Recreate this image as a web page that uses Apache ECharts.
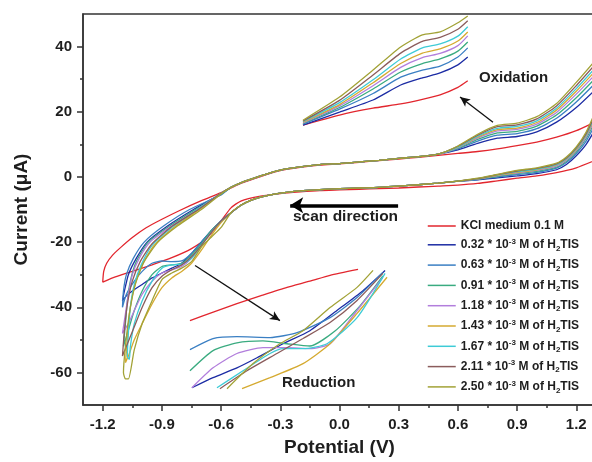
<!DOCTYPE html>
<html>
<head>
<meta charset="utf-8">
<script src="https://cdn.jsdelivr.net/npm/echarts@6/dist/echarts.min.js"></script>
<style>
  html, body { margin: 0; padding: 0; background: #fff; }
  #main { width: 592px; height: 462px; }
</style>
</head>
<body>
<div id="main"></div>
<script>
// legend names and colours (KCl blank first, then H2TIS concentrations)
const names = ['KCl medium 0.1 M', '0.32', '0.63', '0.91', '1.18', '1.43', '1.67', '2.11', '2.50'];
const colors = ['#e2262e', '#1c2ca4', '#3a7fc3', '#3aab80', '#b27edc', '#d5aa30', '#3ecbd6', '#8b5c5c', '#a2a236'];

// axis ticks
const xTicks = [-1.2, -0.9, -0.6, -0.3, 0, 0.3, 0.6, 0.9, 1.2];
const xMinor = [-1.05, -0.75, -0.45, -0.15, 0.15, 0.45, 0.75, 1.05];
const yTicks = [-60, -40, -20, 0, 20, 40];
const yMinor = [-50, -30, -10, 10, 30];

// KCl blank, full loop [V, uA]
const redLoop = [[1.3,5.2],[1.2,2.8],[1.1,1.3],[1.0,0.3],[0.9,-0.4],[0.8,-1.2],[0.7,-2.0],[0.6,-2.5],[0.5,-2.8],
  [0.4,-3.1],[0.3,-3.4],[0.2,-3.6],[0.1,-3.8],[0.0,-4.0],[-0.1,-4.2],[-0.2,-4.6],[-0.3,-5.1],[-0.4,-5.9],
  [-0.5,-7.4],[-0.55,-9.5],[-0.6,-13.5],[-0.67,-18.6],[-0.75,-22.0],[-0.85,-24.8],[-0.95,-27.0],[-1.05,-29.0],
  [-1.15,-31.0],[-1.2,-32.3],[-1.195,-29.0],[-1.18,-26.5],[-1.15,-24.0],[-1.11,-21.7],[-1.05,-18.6],[-0.98,-15.6],
  [-0.9,-13.0],[-0.81,-10.3],[-0.7,-7.3],[-0.6,-4.8],[-0.5,-2.0],[-0.4,0.1],[-0.3,1.9],[-0.2,2.9],[-0.1,3.6],
  [0.0,4.0],[0.1,4.5],[0.2,5.0],[0.3,5.5],[0.4,6.0],[0.5,6.6],[0.6,7.2],[0.7,7.8],[0.8,8.6],[0.9,9.6],
  [1.0,10.7],[1.1,12.2],[1.2,14.2],[1.3,17.0]];

// H2TIS loops, pieces in scan order (0.32 ... 2.50)
const lowerRight = [
  [[1.3,15],[1.25,10],[1.2,6.5],[1.15,3.8],[1.1,2.2],[1.0,1.0],[0.9,0.3],[0.8,-0.3],[0.7,-0.9]],
  [[1.3,16.5],[1.25,11],[1.2,7.2],[1.15,4.4],[1.1,2.7],[1.0,1.4],[0.9,0.7],[0.8,0.0],[0.7,-0.8]],
  [[1.3,17.5],[1.25,11.8],[1.2,7.7],[1.15,4.8],[1.1,3.0],[1.0,1.7],[0.9,1.0],[0.8,0.2],[0.7,-0.7]],
  [[1.3,18.2],[1.25,12.3],[1.2,8.1],[1.15,5.1],[1.1,3.3],[1.0,2.0],[0.9,1.2],[0.8,0.4],[0.7,-0.6]],
  [[1.3,18.8],[1.25,12.7],[1.2,8.4],[1.15,5.4],[1.1,3.6],[1.0,2.2],[0.9,1.4],[0.8,0.5],[0.7,-0.6]],
  [[1.3,19.3],[1.25,13.0],[1.2,8.7],[1.15,5.6],[1.1,3.8],[1.0,2.4],[0.9,1.6],[0.8,0.6],[0.7,-0.5]],
  [[1.3,19.8],[1.25,13.3],[1.2,8.9],[1.15,5.8],[1.1,4.0],[1.0,2.6],[0.9,1.8],[0.8,0.7],[0.7,-0.5]],
  [[1.3,20.5],[1.25,13.8],[1.2,9.2],[1.15,6.1],[1.1,4.2],[1.0,2.8],[0.9,2.0],[0.8,0.8],[0.7,-0.4]]
];
const lowerMid = [[0.6,-1.3],[0.5,-1.9],[0.4,-2.4],[0.3,-2.8],[0.2,-3.2],[0.1,-3.4],[0.0,-3.6],[-0.1,-3.9],
  [-0.2,-4.3],[-0.3,-5.0],[-0.4,-6.2],[-0.45,-7.2],[-0.5,-8.7],[-0.55,-11.0]];
const lowerLeft = [
  [[-0.6,-13.5],[-0.65,-16.5],[-0.7,-20],[-0.75,-23.5],[-0.8,-26.5],[-0.85,-28],[-0.9,-29.5],[-0.95,-31],[-1.0,-33],[-1.05,-35],[-1.08,-36.5],[-1.1,-38]],
  [[-0.6,-13.5],[-0.65,-16.5],[-0.7,-20],[-0.75,-23.5],[-0.8,-25.8],[-0.85,-26],[-0.9,-25.8],[-0.95,-26.5],[-1.0,-29],[-1.04,-32],[-1.08,-36],[-1.1,-40]],
  [[-0.6,-13.5],[-0.65,-16.5],[-0.7,-20.5],[-0.75,-24],[-0.8,-26.5],[-0.85,-27],[-0.9,-27.5],[-0.95,-30],[-1.0,-35],[-1.04,-41],[-1.07,-47],[-1.095,-52]],
  [[-0.6,-13.5],[-0.65,-17],[-0.7,-21],[-0.75,-25],[-0.8,-27.5],[-0.85,-28.5],[-0.9,-29.5],[-0.95,-32],[-1.0,-36],[-1.04,-41],[-1.07,-45],[-1.1,-48]],
  [[-0.6,-14],[-0.65,-18],[-0.7,-22.5],[-0.75,-26.5],[-0.8,-29],[-0.85,-31],[-0.9,-34],[-0.95,-39],[-1.0,-45],[-1.04,-50],[-1.07,-55],[-1.085,-57]],
  [[-0.6,-13.5],[-0.65,-17],[-0.7,-21],[-0.75,-25],[-0.8,-26.8],[-0.85,-27],[-0.9,-28],[-0.95,-32],[-1.0,-38],[-1.04,-45],[-1.06,-52],[-1.065,-56],[-1.075,-55]],
  [[-0.6,-13.5],[-0.65,-17],[-0.7,-21],[-0.75,-24.5],[-0.8,-27],[-0.85,-28.5],[-0.9,-30.5],[-0.95,-34],[-1.0,-40],[-1.04,-46],[-1.08,-52],[-1.1,-55]],
  [[-0.6,-15.5],[-0.65,-18.5],[-0.7,-21.5],[-0.75,-26],[-0.8,-28],[-0.85,-29.5],[-0.9,-31.5],[-0.95,-38],[-1.0,-45],[-1.04,-53],[-1.07,-62],[-1.085,-62]]
];
const upperLeft = [
  [[-1.1,-38],[-1.09,-35],[-1.07,-30],[-1.03,-25],[-0.975,-20],[-0.87,-15],[-0.74,-10],[-0.6,-5.2]],
  [[-1.1,-40],[-1.095,-35],[-1.08,-30],[-1.045,-25],[-0.99,-20],[-0.89,-15],[-0.76,-10],[-0.6,-5.5]],
  [[-1.095,-52],[-1.085,-45],[-1.075,-38],[-1.06,-32],[-1.03,-26],[-0.97,-20],[-0.86,-15],[-0.73,-10],[-0.6,-5.2]],
  [[-1.1,-48],[-1.085,-42],[-1.07,-36],[-1.05,-30],[-1.015,-25],[-0.96,-20],[-0.85,-15],[-0.72,-10],[-0.6,-5]],
  [[-1.085,-57],[-1.075,-50],[-1.065,-42],[-1.04,-34],[-1.0,-27],[-0.94,-21],[-0.84,-15.5],[-0.71,-10],[-0.6,-5]],
  [[-1.075,-55],[-1.07,-48],[-1.06,-40],[-1.04,-33],[-1.005,-27],[-0.95,-21],[-0.85,-15.5],[-0.72,-10],[-0.6,-5]],
  [[-1.1,-55],[-1.09,-47],[-1.075,-39],[-1.05,-32],[-1.01,-26],[-0.95,-20.5],[-0.845,-15],[-0.715,-10],[-0.6,-5]],
  [[-1.095,-60],[-1.085,-52],[-1.065,-42],[-1.035,-33],[-0.99,-26],[-0.92,-20],[-0.82,-15],[-0.7,-10],[-0.6,-5.2]]
];
const upperMid = [[-0.55,-3.2],[-0.5,-1.8],[-0.4,0.3],[-0.3,2.1],[-0.2,3.1],[-0.1,3.8],[0.0,4.1],[0.1,4.6],
  [0.2,5.1],[0.3,5.7],[0.4,6.2],[0.5,7.0]];
const upperRight = [
  [[0.6,8.3],[0.7,10.3],[0.8,11.9],[0.9,12.4],[1.0,13.8],[1.1,16.8],[1.2,21.3],[1.3,27]],
  [[0.6,8.6],[0.7,11.0],[0.8,12.8],[0.9,13.3],[1.0,14.8],[1.1,18.0],[1.2,23.0],[1.3,29]],
  [[0.6,8.8],[0.7,11.5],[0.8,13.5],[0.9,14.0],[1.0,15.6],[1.1,19.0],[1.2,24.3],[1.3,30.5]],
  [[0.6,9.0],[0.7,11.9],[0.8,14.1],[0.9,14.6],[1.0,16.2],[1.1,19.8],[1.2,25.4],[1.3,31.7]],
  [[0.6,9.1],[0.7,12.2],[0.8,14.5],[0.9,15.0],[1.0,16.7],[1.1,20.5],[1.2,26.3],[1.3,32.7]],
  [[0.6,9.2],[0.7,12.5],[0.8,14.9],[0.9,15.5],[1.0,17.2],[1.1,21.1],[1.2,27.1],[1.3,33.7]],
  [[0.6,9.4],[0.7,12.8],[0.8,15.4],[0.9,16.0],[1.0,17.8],[1.1,21.8],[1.2,28.0],[1.3,34.8]],
  [[0.6,9.5],[0.7,13.1],[0.8,15.8],[0.9,16.5],[1.0,18.5],[1.1,22.5],[1.2,29.0],[1.3,36]]
];

// oxidation inset (drawn in main axis units), same x for all curves; KCl first
const oxV = [-0.185, 0.0, 0.17, 0.31, 0.42, 0.51, 0.6, 0.65];
const oxI = [
  [15.9, 19.0, 21.1, 22.4, 23.8, 25.2, 27.5, 29.5],
  [15.9, 19.9, 23.6, 28.2, 30.4, 31.9, 34.4, 36.8],
  [16.2, 20.8, 25.6, 30.6, 32.8, 34.0, 36.8, 39.6],
  [16.4, 21.3, 27.0, 32.2, 34.8, 36.2, 38.6, 41.4],
  [16.6, 21.8, 28.0, 33.6, 36.6, 37.9, 40.3, 43.3],
  [16.8, 22.2, 28.9, 34.8, 38.0, 39.3, 41.7, 44.5],
  [17.0, 22.8, 29.8, 36.2, 39.6, 40.8, 43.2, 46.1],
  [17.2, 23.5, 31.3, 38.0, 41.6, 42.8, 45.3, 47.9],
  [17.4, 24.5, 32.8, 39.9, 43.6, 44.5, 47.3, 49.4]
];

// reduction inset, KCl first
const redInset = [
  [[-0.758,-44.1],[-0.64,-41.5],[-0.52,-38.9],[-0.39,-36.3],[-0.266,-33.9],[-0.15,-32.0],[-0.048,-30.2],[0.094,-28.4]],
  [[-0.748,-64.7],[-0.641,-61.6],[-0.52,-58.6],[-0.418,-55.5],[-0.286,-51.2],[-0.15,-47.2],[-0.013,-41.0],[0.119,-34.9],[0.231,-28.7]],
  [[-0.758,-53.0],[-0.641,-49.6],[-0.52,-49.0],[-0.352,-49.3],[-0.215,-47.8],[-0.048,-43.2],[0.089,-37.0],[0.22,-29.3]],
  [[-0.758,-59.5],[-0.641,-53.3],[-0.52,-50.9],[-0.388,-50.3],[-0.266,-51.2],[-0.15,-51.9],[-0.023,-47.3],[0.104,-39.6],[0.22,-30.4]],
  [[-0.748,-64.7],[-0.641,-58.6],[-0.52,-54.2],[-0.388,-52.4],[-0.266,-52.4],[-0.15,-52.7],[-0.048,-51.2],[0.089,-41.0],[0.22,-30.8]],
  [[-0.494,-65.0],[-0.352,-61.6],[-0.185,-57.3],[-0.048,-51.2],[0.089,-41.9],[0.241,-30.8]],
  [[-0.621,-64.7],[-0.489,-59.5],[-0.352,-54.2],[-0.286,-52.7],[-0.185,-52.7],[-0.063,-51.2],[0.089,-43.2],[0.231,-29.6]],
  [[-0.606,-65.0],[-0.469,-59.5],[-0.317,-54.2],[-0.185,-49.6],[-0.048,-44.7],[0.089,-37.9],[0.22,-29.6]],
  [[-0.570,-65.0],[-0.438,-57.3],[-0.302,-51.2],[-0.185,-47.2],[-0.048,-40.1],[0.089,-33.9],[0.170,-28.7]]
];

const font = 'Liberation Sans, Arial, Helvetica, sans-serif';
const ink = '#1e1e1e';

function lineSeries(i, data, z) {
  return {
    name: names[i], type: 'line', data: data, symbol: 'none', smooth: 0.2, z: z,
    lineStyle: { color: colors[i], width: 1.3 }, itemStyle: { color: colors[i] },
    silent: true
  };
}

const series = [];
const red = lineSeries(0, redLoop, 2);
red.markLine = {
  silent: true, animation: false, label: { show: false }, symbolSize: 9,
  data: [
    [{ coord: [0.297, -8.7], symbol: 'none', lineStyle: { color: '#000', width: 3.5, type: 'solid' } },
     { coord: [-0.25, -8.7], symbol: 'arrow', symbolSize: [12, 13] }],
    [{ coord: [0.778, 16.8], symbol: 'none', lineStyle: { color: '#111', width: 1.3, type: 'solid' } },
     { coord: [0.611, 24.5], symbol: 'arrow', symbolSize: [7, 10] }],
    [{ coord: [-0.732, -27.2], symbol: 'none', lineStyle: { color: '#111', width: 1.3, type: 'solid' } },
     { coord: [-0.302, -44.1], symbol: 'arrow', symbolSize: [7, 10] }]
  ]
};
series.push(red);
for (let k = 0; k < 8; k++) {
  const loop = [].concat(lowerRight[k], lowerMid, lowerLeft[k], upperLeft[k], upperMid, upperRight[k]);
  series.push(lineSeries(k + 1, loop, 3 + k));
}
for (let i = 0; i < 9; i++) {
  series.push(lineSeries(i, oxV.map((v, j) => [v, oxI[i][j]]), 12 + i));
  series.push(lineSeries(i, redInset[i], 12 + i));
}

function legendText(name) {
  if (name === names[0]) return '{t|' + name + '}';
  return '{t|' + name + ' * 10}{sup|-3}{t| M of H}{sub|2}{t|TIS}';
}

const axisLineStyle = { color: '#333', width: 1.5 };
const option = {
  animation: false,
  backgroundColor: '#fff',
  grid: { left: 83, right: -4, top: 14, bottom: 57, show: true, borderColor: '#333', borderWidth: 1.5,
          containLabel: false, outerBoundsMode: 'none' },
  xAxis: [
    {
      type: 'value', min: -1.3, max: 1.3,
      name: 'Potential (V)', nameLocation: 'middle', nameGap: 33,
      nameTextStyle: { fontFamily: font, fontSize: 19, fontWeight: 'bold', color: ink },
      axisLine: { onZero: false, lineStyle: axisLineStyle },
      axisTick: { length: 6, customValues: xTicks, lineStyle: axisLineStyle },
      axisLabel: { customValues: xTicks, formatter: v => v.toFixed(1), margin: 12,
                   fontFamily: font, fontSize: 15, fontWeight: 'bold', color: ink },
      splitLine: { show: false }
    },
    {
      type: 'value', min: -1.3, max: 1.3, position: 'bottom',
      axisLine: { show: false, onZero: false },
      axisTick: { length: 3, customValues: xMinor, lineStyle: axisLineStyle },
      axisLabel: { show: false }, splitLine: { show: false }
    }
  ],
  yAxis: [
    {
      type: 'value', min: -70, max: 50,
      name: 'Current (\u03bcA)', nameLocation: 'middle', nameGap: 52, nameRotate: 90,
      nameTextStyle: { fontFamily: font, fontSize: 19, fontWeight: 'bold', color: ink },
      axisLine: { show: true, onZero: false, lineStyle: axisLineStyle },
      axisTick: { show: true, length: 6, customValues: yTicks, lineStyle: axisLineStyle },
      axisLabel: { customValues: yTicks, margin: 11, fontFamily: font, fontSize: 15, fontWeight: 'bold', color: ink },
      splitLine: { show: false }
    },
    {
      type: 'value', min: -70, max: 50, position: 'left',
      axisLine: { show: false, onZero: false },
      axisTick: { show: true, length: 3, customValues: yMinor, lineStyle: axisLineStyle },
      axisLabel: { show: false }, splitLine: { show: false }
    }
  ],
  legend: {
    orient: 'vertical', left: 427, top: 220, padding: 0, itemWidth: 28, itemHeight: 14, itemGap: 5.3,
    data: names, formatter: legendText, selectedMode: false,
    itemStyle: { opacity: 0 },
    lineStyle: { width: 1.5 },
    textStyle: {
      fontFamily: font, fontSize: 12, fontWeight: 'bold', color: ink,
      rich: {
        t: { fontFamily: font, fontSize: 12, fontWeight: 'bold', color: ink, lineHeight: 15 },
        sup: { fontFamily: font, fontSize: 8, fontWeight: 'bold', color: ink, verticalAlign: 'top' },
        sub: { fontFamily: font, fontSize: 8, fontWeight: 'bold', color: ink, verticalAlign: 'bottom' }
      }
    }
  },
  graphic: [
    { type: 'text', left: 479, top: 70, style: { text: 'Oxidation', font: 'bold 15px ' + font, fill: ink } },
    { type: 'text', left: 282, top: 375, style: { text: 'Reduction', font: 'bold 15px ' + font, fill: ink } },
    { type: 'text', left: 293, top: 209, style: { text: 'scan direction', font: 'bold 15.5px ' + font, fill: ink } }
  ],
  series: series
};

const chart = echarts.init(document.getElementById('main'), null, { renderer: 'canvas' });
chart.setOption(option);
</script>
</body>
</html>
